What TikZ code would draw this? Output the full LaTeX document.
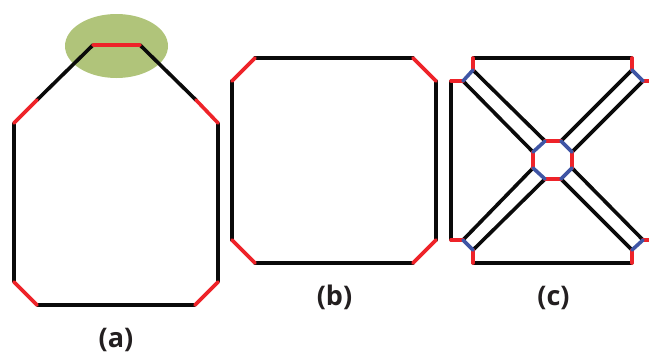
\documentclass[tikz,border=0pt]{standalone}
\usepackage{fontspec}
\setmainfont{Open Sans}
\definecolor{edgeblack}{HTML}{0A0A0A}
\definecolor{edgered}{HTML}{EE2329}
\definecolor{edgeblue}{HTML}{3F55A5}
\definecolor{blob}{HTML}{B0C47A}
\definecolor{labelink}{HTML}{231F20}
\tikzset{
  blk/.style={draw=edgeblack,line width=3.6pt,line cap=round},
  rd/.style={draw=edgered,line width=3.6pt,line cap=round},
  bl/.style={draw=edgeblue,line width=3.6pt,line cap=round},
  caption/.style={font=\bfseries\fontsize{27}{31}\selectfont,text=labelink,inner sep=0pt,anchor=base}
}
\begin{document}
\begin{tikzpicture}[x=1pt,y=-1pt]
\useasboundingbox (0,0) rectangle (649,354);
\fill[blob] (116.5,46) ellipse [x radius=51.5,y radius=32];
% panel a
\coordinate (a1) at (93,45); \coordinate (a2) at (140,45);
\coordinate (a3) at (196,100); \coordinate (a4) at (218,123);
\coordinate (a5) at (218,282); \coordinate (a6) at (195,305);
\coordinate (a7) at (37,305); \coordinate (a8) at (14,282);
\coordinate (a9) at (14,123); \coordinate (a10) at (37,100);
\draw[blk] (a1)--(a10) (a2)--(a3) (a4)--(a5) (a6)--(a7) (a8)--(a9);
\draw[rd] (a1)--(a2) (a3)--(a4) (a5)--(a6) (a7)--(a8) (a9)--(a10);
% panel b
\coordinate (b1) at (255,58); \coordinate (b2) at (413,58);
\coordinate (b3) at (436,81); \coordinate (b4) at (436,240);
\coordinate (b5) at (413,263); \coordinate (b6) at (255,263);
\coordinate (b7) at (232,240); \coordinate (b8) at (232,81);
\draw[blk] (b1)--(b2) (b3)--(b4) (b5)--(b6) (b7)--(b8);
\draw[rd] (b2)--(b3) (b4)--(b5) (b6)--(b7) (b8)--(b1);
% panel c outer
\coordinate (tl0) at (473,58); \coordinate (tl1) at (473,70); \coordinate (tl2) at (463,81); \coordinate (tl3) at (451,81);
\coordinate (tr0) at (632,58); \coordinate (tr1) at (632,70); \coordinate (tr2) at (643,81); \coordinate (tr3) at (649,81);
\coordinate (bl0) at (473,263); \coordinate (bl1) at (473,250); \coordinate (bl2) at (463,240); \coordinate (bl3) at (451,240);
\coordinate (br0) at (632,263); \coordinate (br1) at (632,250); \coordinate (br2) at (643,240); \coordinate (br3) at (649,240);
% panel c centre octagon
\coordinate (o1) at (545,141); \coordinate (o2) at (561,141);
\coordinate (o3) at (572,152); \coordinate (o4) at (572,168);
\coordinate (o5) at (561,179); \coordinate (o6) at (545,179);
\coordinate (o7) at (533,168); \coordinate (o8) at (533,152);
\draw[blk] (tl0)--(tr0) (bl0)--(br0) (tl3)--(bl3)
  (tl1)--(o1) (tl2)--(o8) (tr1)--(o2) (tr2)--(o3)
  (bl2)--(o7) (bl1)--(o6) (br1)--(o5) (br2)--(o4);
\draw[rd] (tl0)--(tl1) (tl2)--(tl3) (tr0)--(tr1) (tr2)--(tr3)
  (bl0)--(bl1) (bl2)--(bl3) (br0)--(br1) (br2)--(br3)
  (o1)--(o2) (o3)--(o4) (o5)--(o6) (o7)--(o8);
\draw[bl] (tl1)--(tl2) (tr1)--(tr2) (bl1)--(bl2) (br1)--(br2)
  (o2)--(o3) (o4)--(o5) (o6)--(o7) (o8)--(o1);
% captions
\node[caption] (capa) at (116,347.5) {(a)};
\node[caption] (capb) at (334.5,305.5) {(b)};
\node[caption] (capc) at (553.5,305.5) {(c)};
\end{tikzpicture}
\end{document}
